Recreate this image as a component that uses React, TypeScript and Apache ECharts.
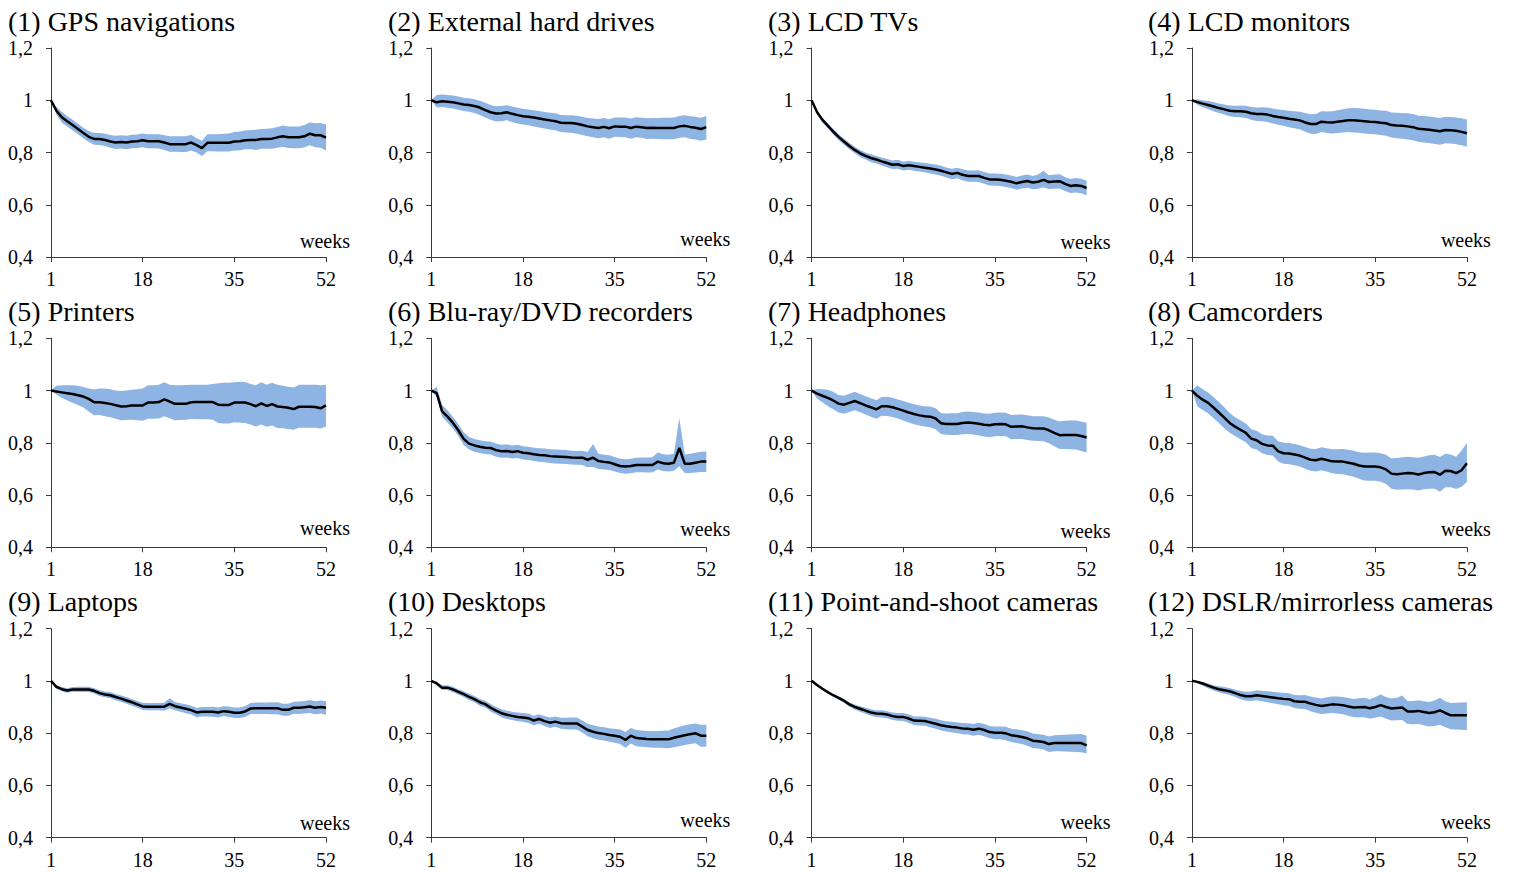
import React, { useEffect, useRef } from "react";
import * as echarts from "echarts";

const WEEKS = [1, 2, 3, 4, 5, 6, 7, 8, 9, 10, 11, 12, 13, 14, 15, 16, 17, 18, 19, 20, 21, 22, 23, 24, 25, 26, 27, 28, 29, 30, 31, 32, 33, 34, 35, 36, 37, 38, 39, 40, 41, 42, 43, 44, 45, 46, 47, 48, 49, 50, 51, 52];
const TICK_WEEKS = [1, 18, 35, 52];

const TITLES = [
  "(1) GPS navigations",
  "(2) External hard drives",
  "(3) LCD TVs",
  "(4) LCD monitors",
  "(5) Printers",
  "(6) Blu-ray/DVD recorders",
  "(7) Headphones",
  "(8) Camcorders",
  "(9) Laptops",
  "(10) Desktops",
  "(11) Point-and-shoot cameras",
  "(12) DSLR/mirrorless cameras",
];

const P1_MEAN = [1.0, 0.96, 0.935, 0.92, 0.905, 0.89, 0.875, 0.86, 0.852, 0.852, 0.848, 0.842, 0.838, 0.84, 0.838, 0.842, 0.843, 0.847, 0.843, 0.843, 0.843, 0.838, 0.832, 0.832, 0.832, 0.832, 0.838, 0.828, 0.817, 0.837, 0.837, 0.837, 0.837, 0.837, 0.842, 0.843, 0.847, 0.848, 0.848, 0.852, 0.852, 0.853, 0.858, 0.862, 0.858, 0.858, 0.858, 0.862, 0.872, 0.866, 0.866, 0.857];
const P1_HIGH = [1.0, 0.975, 0.955, 0.94, 0.925, 0.91, 0.895, 0.882, 0.875, 0.875, 0.872, 0.867, 0.864, 0.866, 0.864, 0.868, 0.869, 0.873, 0.87, 0.87, 0.87, 0.866, 0.862, 0.862, 0.862, 0.862, 0.868, 0.855, 0.845, 0.87, 0.87, 0.87, 0.872, 0.873, 0.878, 0.88, 0.884, 0.886, 0.887, 0.89, 0.891, 0.893, 0.898, 0.903, 0.9, 0.9, 0.9, 0.905, 0.915, 0.912, 0.913, 0.907];
const P1_LOW = [1.0, 0.945, 0.915, 0.9, 0.885, 0.87, 0.855, 0.84, 0.83, 0.829, 0.825, 0.818, 0.813, 0.815, 0.812, 0.816, 0.817, 0.82, 0.816, 0.816, 0.815, 0.81, 0.803, 0.803, 0.802, 0.802, 0.808, 0.8, 0.787, 0.805, 0.805, 0.804, 0.804, 0.804, 0.808, 0.808, 0.812, 0.812, 0.81, 0.814, 0.814, 0.814, 0.818, 0.822, 0.817, 0.816, 0.816, 0.82, 0.828, 0.82, 0.818, 0.808];

const P2_MEAN = [1.0, 0.992, 0.996, 0.994, 0.992, 0.988, 0.984, 0.982, 0.978, 0.972, 0.962, 0.954, 0.949, 0.95, 0.954, 0.948, 0.943, 0.939, 0.937, 0.934, 0.93, 0.926, 0.923, 0.92, 0.914, 0.913, 0.913, 0.91, 0.905, 0.9, 0.897, 0.894, 0.898, 0.893, 0.9, 0.899, 0.899, 0.894, 0.899, 0.897, 0.894, 0.895, 0.894, 0.894, 0.894, 0.894, 0.9, 0.902, 0.898, 0.895, 0.89, 0.897];
const P2_HIGH = [1.0, 1.02, 1.022, 1.02, 1.018, 1.014, 1.01, 1.008, 1.004, 0.998, 0.99, 0.982, 0.977, 0.978, 0.981, 0.976, 0.971, 0.967, 0.965, 0.962, 0.959, 0.955, 0.952, 0.95, 0.944, 0.943, 0.943, 0.941, 0.937, 0.932, 0.93, 0.928, 0.932, 0.927, 0.934, 0.934, 0.934, 0.93, 0.935, 0.933, 0.931, 0.932, 0.932, 0.933, 0.933, 0.934, 0.94, 0.943, 0.939, 0.937, 0.933, 0.94];
const P2_LOW = [1.0, 0.972, 0.974, 0.971, 0.968, 0.964, 0.959, 0.956, 0.951, 0.944, 0.934, 0.925, 0.919, 0.92, 0.923, 0.917, 0.911, 0.907, 0.904, 0.9, 0.896, 0.892, 0.888, 0.885, 0.878, 0.877, 0.876, 0.872, 0.867, 0.862, 0.858, 0.855, 0.858, 0.853, 0.86, 0.859, 0.858, 0.853, 0.858, 0.856, 0.852, 0.853, 0.852, 0.851, 0.851, 0.851, 0.856, 0.858, 0.853, 0.85, 0.845, 0.85];

const P3_MEAN = [1.0, 0.955, 0.925, 0.903, 0.88, 0.86, 0.842, 0.825, 0.81, 0.797, 0.787, 0.779, 0.773, 0.766, 0.76, 0.753, 0.755, 0.748, 0.751, 0.748, 0.745, 0.742, 0.739, 0.735, 0.73, 0.724, 0.718, 0.722, 0.715, 0.71, 0.71, 0.71, 0.703, 0.697, 0.697, 0.696, 0.692, 0.688, 0.682, 0.687, 0.691, 0.685, 0.688, 0.695, 0.687, 0.689, 0.69, 0.68, 0.672, 0.675, 0.672, 0.664];
const P3_HIGH = [1.0, 0.962, 0.934, 0.912, 0.89, 0.871, 0.853, 0.837, 0.822, 0.81, 0.8, 0.793, 0.787, 0.781, 0.775, 0.769, 0.772, 0.765, 0.768, 0.765, 0.763, 0.76, 0.757, 0.754, 0.749, 0.743, 0.738, 0.742, 0.736, 0.731, 0.731, 0.732, 0.725, 0.72, 0.72, 0.719, 0.716, 0.712, 0.706, 0.712, 0.716, 0.71, 0.716, 0.73, 0.713, 0.716, 0.717, 0.706, 0.699, 0.702, 0.7, 0.692];
const P3_LOW = [1.0, 0.946, 0.915, 0.893, 0.869, 0.848, 0.83, 0.812, 0.797, 0.783, 0.773, 0.764, 0.758, 0.75, 0.744, 0.737, 0.738, 0.731, 0.734, 0.73, 0.727, 0.724, 0.72, 0.716, 0.711, 0.704, 0.698, 0.701, 0.694, 0.688, 0.688, 0.687, 0.68, 0.674, 0.673, 0.672, 0.668, 0.664, 0.657, 0.662, 0.665, 0.659, 0.661, 0.667, 0.66, 0.661, 0.662, 0.653, 0.645, 0.647, 0.644, 0.636];

const P4_MEAN = [1.0, 0.993, 0.987, 0.982, 0.976, 0.97, 0.965, 0.96, 0.958, 0.958, 0.956, 0.95, 0.947, 0.947, 0.945, 0.94, 0.936, 0.933, 0.929, 0.926, 0.923, 0.915, 0.909, 0.909, 0.918, 0.916, 0.915, 0.918, 0.921, 0.923, 0.923, 0.922, 0.92, 0.918, 0.917, 0.914, 0.912, 0.905, 0.903, 0.902, 0.9, 0.897, 0.891, 0.889, 0.887, 0.884, 0.881, 0.886, 0.885, 0.883, 0.879, 0.874];
const P4_HIGH = [1.0, 1.003, 1.0, 0.997, 0.993, 0.988, 0.984, 0.98, 0.979, 0.98, 0.979, 0.974, 0.972, 0.973, 0.972, 0.968, 0.965, 0.963, 0.96, 0.958, 0.956, 0.951, 0.946, 0.947, 0.958, 0.957, 0.958, 0.962, 0.966, 0.969, 0.97, 0.969, 0.967, 0.965, 0.964, 0.961, 0.96, 0.953, 0.952, 0.951, 0.95, 0.947, 0.941, 0.94, 0.938, 0.935, 0.932, 0.937, 0.936, 0.934, 0.931, 0.926];
const P4_LOW = [1.0, 0.983, 0.973, 0.966, 0.958, 0.951, 0.945, 0.939, 0.936, 0.935, 0.932, 0.925, 0.921, 0.92, 0.917, 0.911, 0.906, 0.902, 0.897, 0.893, 0.889, 0.879, 0.872, 0.871, 0.878, 0.875, 0.873, 0.875, 0.877, 0.878, 0.877, 0.876, 0.873, 0.871, 0.87, 0.867, 0.864, 0.857, 0.855, 0.853, 0.85, 0.847, 0.841, 0.838, 0.836, 0.833, 0.83, 0.835, 0.834, 0.832, 0.828, 0.822];

const P5_MEAN = [1.0, 0.996, 0.993, 0.99, 0.987, 0.982, 0.977, 0.968, 0.955, 0.955, 0.952, 0.949, 0.944, 0.939, 0.94, 0.943, 0.943, 0.943, 0.954, 0.954, 0.956, 0.966, 0.958, 0.949, 0.949, 0.949, 0.955, 0.956, 0.956, 0.956, 0.956, 0.946, 0.945, 0.945, 0.954, 0.954, 0.954, 0.948, 0.94, 0.951, 0.941, 0.948, 0.939, 0.937, 0.934, 0.929, 0.938, 0.938, 0.938, 0.937, 0.932, 0.943];
const P5_HIGH = [1.0, 1.018, 1.02, 1.02, 1.02, 1.018, 1.014, 1.008, 1.004, 1.008, 1.008, 1.005, 1.0, 0.998, 1.0, 1.003, 1.005, 1.008, 1.02, 1.02, 1.022, 1.032, 1.022, 1.02, 1.02, 1.021, 1.022, 1.022, 1.022, 1.022, 1.025, 1.028, 1.03, 1.03, 1.032, 1.034, 1.033, 1.025, 1.02, 1.032, 1.022, 1.03, 1.022, 1.018, 1.015, 1.012, 1.022, 1.022, 1.022, 1.022, 1.02, 1.022];
const P5_LOW = [1.0, 0.985, 0.972, 0.962, 0.953, 0.945, 0.935, 0.92, 0.905, 0.906, 0.902, 0.898, 0.892, 0.886, 0.887, 0.888, 0.886, 0.884, 0.892, 0.892, 0.893, 0.902, 0.894, 0.886, 0.887, 0.888, 0.891, 0.89, 0.89, 0.89, 0.888, 0.876, 0.874, 0.874, 0.879, 0.877, 0.876, 0.87, 0.862, 0.87, 0.861, 0.866, 0.857, 0.856, 0.853, 0.85, 0.858, 0.858, 0.858, 0.858, 0.855, 0.862];

const P6_MEAN = [1.0, 0.99, 0.92, 0.9, 0.877, 0.848, 0.815, 0.797, 0.79, 0.785, 0.781, 0.78, 0.772, 0.768, 0.769, 0.765, 0.768, 0.762, 0.76, 0.756, 0.753, 0.752, 0.749, 0.748, 0.747, 0.746, 0.744, 0.743, 0.743, 0.735, 0.743, 0.73, 0.727, 0.725, 0.718, 0.711, 0.709, 0.711, 0.715, 0.715, 0.715, 0.715, 0.728, 0.722, 0.72, 0.724, 0.78, 0.72, 0.72, 0.724, 0.728, 0.728];
const P6_HIGH = [1.0, 1.015, 0.945, 0.925, 0.9, 0.872, 0.84, 0.822, 0.815, 0.81, 0.806, 0.805, 0.797, 0.793, 0.794, 0.79, 0.793, 0.787, 0.785, 0.781, 0.779, 0.778, 0.775, 0.774, 0.773, 0.772, 0.77, 0.769, 0.77, 0.765, 0.795, 0.758, 0.754, 0.752, 0.746, 0.739, 0.737, 0.739, 0.743, 0.744, 0.744, 0.745, 0.763, 0.756, 0.754, 0.758, 0.895, 0.755, 0.758, 0.762, 0.766, 0.767];
const P6_LOW = [1.0, 0.975, 0.9, 0.878, 0.855, 0.826, 0.792, 0.774, 0.766, 0.761, 0.757, 0.755, 0.747, 0.743, 0.744, 0.74, 0.742, 0.736, 0.734, 0.73, 0.727, 0.726, 0.723, 0.721, 0.72, 0.719, 0.717, 0.716, 0.715, 0.706, 0.708, 0.7, 0.698, 0.696, 0.69, 0.684, 0.682, 0.683, 0.687, 0.687, 0.686, 0.686, 0.698, 0.692, 0.69, 0.693, 0.71, 0.684, 0.684, 0.686, 0.688, 0.688];

const P7_MEAN = [1.0, 0.988, 0.98, 0.972, 0.962, 0.95, 0.946, 0.953, 0.96, 0.952, 0.943, 0.936, 0.928, 0.94, 0.94, 0.936, 0.93, 0.923, 0.916, 0.91, 0.905, 0.902, 0.9, 0.893, 0.875, 0.872, 0.872, 0.872, 0.876, 0.878, 0.876, 0.873, 0.869, 0.867, 0.871, 0.872, 0.871, 0.861, 0.862, 0.863, 0.859, 0.856, 0.855, 0.855, 0.848, 0.838, 0.829, 0.83, 0.83, 0.83, 0.826, 0.82];
const P7_HIGH = [1.0, 1.006, 1.005, 1.003, 0.995, 0.983, 0.98, 0.988, 0.995, 0.987, 0.978, 0.971, 0.963, 0.975, 0.976, 0.972, 0.966, 0.96, 0.953, 0.948, 0.943, 0.94, 0.939, 0.932, 0.914, 0.912, 0.913, 0.913, 0.918, 0.92, 0.918, 0.916, 0.912, 0.911, 0.915, 0.916, 0.915, 0.906, 0.907, 0.908, 0.905, 0.902, 0.902, 0.902, 0.897, 0.888, 0.882, 0.884, 0.885, 0.885, 0.882, 0.877];
const P7_LOW = [1.0, 0.97, 0.955, 0.94, 0.928, 0.916, 0.911, 0.918, 0.925, 0.917, 0.908, 0.9, 0.892, 0.904, 0.903, 0.899, 0.893, 0.885, 0.878, 0.871, 0.866, 0.862, 0.86, 0.852, 0.834, 0.831, 0.83, 0.83, 0.833, 0.834, 0.832, 0.828, 0.824, 0.821, 0.825, 0.826, 0.825, 0.814, 0.815, 0.815, 0.811, 0.808, 0.807, 0.806, 0.798, 0.787, 0.776, 0.776, 0.775, 0.774, 0.769, 0.763];

const P8_MEAN = [1.0, 0.98, 0.965, 0.953, 0.935, 0.916, 0.896, 0.876, 0.862, 0.85, 0.838, 0.816, 0.81, 0.796, 0.79, 0.789, 0.767, 0.76, 0.759, 0.755, 0.751, 0.743, 0.735, 0.733, 0.739, 0.734, 0.729, 0.728, 0.728, 0.724, 0.72, 0.713, 0.709, 0.709, 0.709, 0.706, 0.698, 0.682, 0.68, 0.682, 0.684, 0.683, 0.679, 0.684, 0.687, 0.688, 0.678, 0.693, 0.692, 0.684, 0.695, 0.722];
const P8_HIGH = [1.0, 1.02, 1.005, 0.993, 0.975, 0.956, 0.936, 0.914, 0.898, 0.886, 0.874, 0.852, 0.846, 0.833, 0.828, 0.827, 0.806, 0.8, 0.799, 0.795, 0.791, 0.784, 0.777, 0.776, 0.783, 0.779, 0.775, 0.775, 0.776, 0.773, 0.77, 0.764, 0.762, 0.763, 0.763, 0.76, 0.754, 0.74, 0.742, 0.745, 0.747, 0.745, 0.743, 0.748, 0.752, 0.754, 0.746, 0.758, 0.755, 0.747, 0.77, 0.8];
const P8_LOW = [1.0, 0.94, 0.926, 0.913, 0.895, 0.876, 0.856, 0.838, 0.826, 0.814, 0.802, 0.78, 0.774, 0.76, 0.753, 0.751, 0.728, 0.72, 0.718, 0.714, 0.709, 0.701, 0.693, 0.69, 0.695, 0.69, 0.683, 0.681, 0.68, 0.675, 0.67, 0.662, 0.656, 0.655, 0.655, 0.651, 0.642, 0.624, 0.62, 0.621, 0.622, 0.621, 0.617, 0.622, 0.624, 0.624, 0.613, 0.63, 0.63, 0.623, 0.632, 0.65];

const P9_MEAN = [1.0, 0.977, 0.968, 0.963, 0.967, 0.967, 0.967, 0.967, 0.962, 0.953, 0.948, 0.945, 0.938, 0.932, 0.925, 0.918, 0.91, 0.902, 0.901, 0.901, 0.901, 0.901, 0.912, 0.903, 0.898, 0.893, 0.888, 0.879, 0.882, 0.882, 0.882, 0.879, 0.884, 0.882, 0.878, 0.878, 0.883, 0.894, 0.895, 0.895, 0.895, 0.895, 0.895, 0.889, 0.889, 0.897, 0.897, 0.899, 0.902, 0.897, 0.9, 0.897];
const P9_HIGH = [1.0, 0.984, 0.976, 0.972, 0.976, 0.977, 0.977, 0.977, 0.972, 0.964, 0.959, 0.957, 0.95, 0.944, 0.938, 0.931, 0.923, 0.916, 0.915, 0.915, 0.915, 0.916, 0.933, 0.919, 0.914, 0.91, 0.905, 0.897, 0.9, 0.9, 0.901, 0.898, 0.903, 0.902, 0.898, 0.898, 0.904, 0.915, 0.917, 0.917, 0.917, 0.918, 0.918, 0.912, 0.912, 0.92, 0.921, 0.923, 0.927, 0.922, 0.925, 0.922];
const P9_LOW = [1.0, 0.97, 0.96, 0.954, 0.958, 0.957, 0.957, 0.957, 0.952, 0.942, 0.937, 0.933, 0.926, 0.92, 0.912, 0.905, 0.897, 0.888, 0.887, 0.887, 0.887, 0.886, 0.894, 0.887, 0.882, 0.876, 0.871, 0.861, 0.864, 0.864, 0.863, 0.86, 0.865, 0.862, 0.858, 0.858, 0.862, 0.873, 0.873, 0.873, 0.873, 0.872, 0.872, 0.866, 0.866, 0.874, 0.873, 0.875, 0.877, 0.872, 0.875, 0.87];

const P10_MEAN = [1.0, 0.99, 0.974, 0.974, 0.967, 0.958, 0.949, 0.939, 0.93, 0.918, 0.911, 0.897, 0.886, 0.876, 0.87, 0.866, 0.862, 0.86, 0.857, 0.848, 0.854, 0.846, 0.84, 0.844, 0.838, 0.837, 0.837, 0.837, 0.825, 0.812, 0.805, 0.8, 0.797, 0.793, 0.79, 0.786, 0.774, 0.79, 0.781, 0.779, 0.777, 0.776, 0.776, 0.776, 0.776, 0.782, 0.787, 0.792, 0.796, 0.799, 0.79, 0.79];
const P10_HIGH = [1.0, 0.997, 0.982, 0.983, 0.977, 0.968, 0.96, 0.951, 0.942, 0.931, 0.924, 0.911, 0.9, 0.891, 0.886, 0.882, 0.879, 0.877, 0.875, 0.866, 0.872, 0.865, 0.86, 0.864, 0.859, 0.859, 0.86, 0.86, 0.848, 0.836, 0.83, 0.825, 0.822, 0.819, 0.817, 0.814, 0.804, 0.82, 0.812, 0.81, 0.808, 0.808, 0.808, 0.809, 0.81, 0.818, 0.824, 0.83, 0.834, 0.837, 0.832, 0.832];
const P10_LOW = [1.0, 0.983, 0.966, 0.965, 0.957, 0.948, 0.938, 0.927, 0.918, 0.905, 0.898, 0.883, 0.872, 0.861, 0.854, 0.85, 0.845, 0.843, 0.839, 0.83, 0.836, 0.827, 0.82, 0.824, 0.817, 0.815, 0.814, 0.814, 0.802, 0.788, 0.78, 0.775, 0.772, 0.767, 0.763, 0.758, 0.744, 0.76, 0.75, 0.748, 0.746, 0.744, 0.744, 0.743, 0.742, 0.746, 0.75, 0.754, 0.758, 0.761, 0.748, 0.748];

const P11_MEAN = [1.0, 0.984, 0.97, 0.957, 0.945, 0.935, 0.924, 0.91, 0.9, 0.893, 0.886, 0.879, 0.875, 0.874, 0.871, 0.865, 0.862, 0.862, 0.856, 0.848, 0.847, 0.846, 0.841, 0.836, 0.83, 0.826, 0.823, 0.821, 0.818, 0.817, 0.813, 0.817, 0.812, 0.804, 0.801, 0.801, 0.799, 0.792, 0.789, 0.785, 0.78, 0.771, 0.769, 0.766, 0.758, 0.762, 0.762, 0.762, 0.762, 0.762, 0.762, 0.753];
const P11_HIGH = [1.0, 0.986, 0.973, 0.961, 0.95, 0.941, 0.931, 0.918, 0.909, 0.903, 0.897, 0.891, 0.887, 0.887, 0.884, 0.879, 0.877, 0.877, 0.872, 0.864, 0.864, 0.863, 0.859, 0.855, 0.849, 0.845, 0.843, 0.841, 0.839, 0.838, 0.835, 0.84, 0.835, 0.827, 0.825, 0.825, 0.824, 0.817, 0.815, 0.811, 0.807, 0.798, 0.796, 0.794, 0.787, 0.792, 0.793, 0.794, 0.795, 0.796, 0.797, 0.79];
const P11_LOW = [1.0, 0.981, 0.966, 0.952, 0.939, 0.928, 0.916, 0.901, 0.89, 0.882, 0.874, 0.866, 0.862, 0.86, 0.857, 0.85, 0.847, 0.846, 0.84, 0.831, 0.829, 0.828, 0.822, 0.817, 0.81, 0.806, 0.802, 0.8, 0.796, 0.795, 0.79, 0.794, 0.788, 0.78, 0.776, 0.776, 0.773, 0.766, 0.762, 0.758, 0.752, 0.743, 0.741, 0.737, 0.728, 0.731, 0.731, 0.73, 0.729, 0.728, 0.727, 0.722];

const P12_MEAN = [1.0, 0.996, 0.99, 0.982, 0.974, 0.968, 0.964, 0.96, 0.953, 0.946, 0.941, 0.941, 0.945, 0.942, 0.939, 0.936, 0.933, 0.931, 0.93, 0.922, 0.92, 0.92, 0.913, 0.908, 0.904, 0.907, 0.91, 0.909, 0.907, 0.902, 0.898, 0.899, 0.9, 0.895, 0.9, 0.907, 0.9, 0.894, 0.896, 0.898, 0.883, 0.883, 0.885, 0.881, 0.877, 0.88, 0.887, 0.877, 0.868, 0.868, 0.868, 0.868];
const P12_HIGH = [1.0, 1.0, 0.996, 0.99, 0.983, 0.979, 0.976, 0.973, 0.967, 0.961, 0.958, 0.959, 0.964, 0.962, 0.96, 0.958, 0.955, 0.954, 0.953, 0.946, 0.945, 0.946, 0.94, 0.936, 0.932, 0.937, 0.94, 0.94, 0.938, 0.934, 0.931, 0.933, 0.935, 0.93, 0.938, 0.948, 0.938, 0.932, 0.935, 0.944, 0.922, 0.923, 0.926, 0.922, 0.919, 0.925, 0.935, 0.922, 0.915, 0.916, 0.917, 0.918];
const P12_LOW = [1.0, 0.99, 0.982, 0.972, 0.963, 0.956, 0.951, 0.946, 0.938, 0.93, 0.924, 0.923, 0.926, 0.922, 0.918, 0.914, 0.91, 0.907, 0.905, 0.896, 0.893, 0.892, 0.884, 0.878, 0.873, 0.875, 0.877, 0.875, 0.872, 0.866, 0.861, 0.861, 0.861, 0.855, 0.859, 0.864, 0.855, 0.848, 0.849, 0.85, 0.835, 0.834, 0.835, 0.83, 0.825, 0.827, 0.832, 0.822, 0.815, 0.814, 0.813, 0.812];

const MEANS = [P1_MEAN, P2_MEAN, P3_MEAN, P4_MEAN, P5_MEAN, P6_MEAN, P7_MEAN, P8_MEAN, P9_MEAN, P10_MEAN, P11_MEAN, P12_MEAN];
const HIGHS = [P1_HIGH, P2_HIGH, P3_HIGH, P4_HIGH, P5_HIGH, P6_HIGH, P7_HIGH, P8_HIGH, P9_HIGH, P10_HIGH, P11_HIGH, P12_HIGH];
const LOWS = [P1_LOW, P2_LOW, P3_LOW, P4_LOW, P5_LOW, P6_LOW, P7_LOW, P8_LOW, P9_LOW, P10_LOW, P11_LOW, P12_LOW];

// layout
const COL_X0 = 51;
const COL_STEP = 380.3;
const ROW_Y0 = 48;
const ROW_STEP = 290.3;
const PLOT_W = 275;
const PLOT_H = 209;
const WEEKS_DY = [193, 191, 194, 192, 189.5, 190.5, 192.5, 190.5, 194.5, 191.5, 193.5, 193.5];

const FONT = '"Liberation Serif", "Times New Roman", serif';
const BAND = "#8db4e2";
const AXIS = "#3a3a3a";

export default function App() {
  const ref = useRef<HTMLDivElement>(null);

  useEffect(() => {
    if (!ref.current) return;
    const chart = echarts.init(ref.current, null, { renderer: "svg" });
    const showTick = (_idx: number, val: any) => TICK_WEEKS.includes(Number(val));

    const grids: any[] = [];
    const xAxes: any[] = [];
    const yAxes: any[] = [];
    const series: any[] = [];
    const graphics: any[] = [];

    TITLES.forEach((title, i) => {
      const c = i % 4;
      const r = Math.floor(i / 4);
      const left = COL_X0 + c * COL_STEP;
      const top = ROW_Y0 + r * ROW_STEP;
      grids.push({ left, top, width: PLOT_W, height: PLOT_H });
      xAxes.push({
        type: "category",
        gridIndex: i,
        data: WEEKS.map(String),
        boundaryGap: false,
        axisLine: { lineStyle: { color: AXIS, width: 1 } },
        axisTick: { show: true, length: 5, interval: showTick, lineStyle: { color: AXIS } },
        axisLabel: { interval: showTick, margin: 12, fontSize: 20, fontFamily: FONT, color: "#000" },
        splitLine: { show: false },
      });
      yAxes.push({
        type: "value",
        gridIndex: i,
        min: 0.4,
        max: 1.2,
        interval: 0.2,
        axisLine: { show: true, lineStyle: { color: AXIS, width: 1 } },
        axisTick: { show: true, length: 5, lineStyle: { color: AXIS } },
        axisLabel: {
          margin: 18,
          fontSize: 20,
          fontFamily: FONT,
          color: "#000",
          formatter: (v: number) => String(Math.round(v * 10) / 10).replace(".", ","),
        },
        splitLine: { show: false },
      });
      const low = LOWS[i];
      const high = HIGHS[i];
      series.push({
        type: "line",
        xAxisIndex: i,
        yAxisIndex: i,
        data: low,
        stack: "band" + i,
        symbol: "none",
        silent: true,
        lineStyle: { opacity: 0 },
        z: 1,
      });
      series.push({
        type: "line",
        xAxisIndex: i,
        yAxisIndex: i,
        data: high.map((h, k) => +(h - low[k]).toFixed(4)),
        stack: "band" + i,
        symbol: "none",
        silent: true,
        lineStyle: { opacity: 0 },
        areaStyle: { color: BAND, opacity: 1 },
        z: 2,
      });
      series.push({
        type: "line",
        xAxisIndex: i,
        yAxisIndex: i,
        data: MEANS[i],
        symbol: "none",
        silent: true,
        lineStyle: { color: "#000", width: 2.5 },
        z: 3,
      });
      graphics.push({
        type: "text",
        x: 8 + c * 380,
        y: 21 + r * ROW_STEP,
        style: { text: title, fontSize: 28, fontFamily: FONT, fill: "#000", align: "left", verticalAlign: "middle" },
      });
      graphics.push({
        type: "text",
        x: 350 + c * COL_STEP,
        y: top + WEEKS_DY[i],
        style: { text: "weeks", fontSize: 20, fontFamily: FONT, fill: "#000", align: "right", verticalAlign: "middle" },
      });
    });

    chart.setOption({
      animation: false,
      backgroundColor: "#fff",
      grid: grids,
      xAxis: xAxes,
      yAxis: yAxes,
      series,
      graphic: graphics,
    });
    return () => chart.dispose();
  }, []);

  return <div ref={ref} style={{ position: "absolute", left: 0, top: 0, width: 1514, height: 872 }} />;
}
